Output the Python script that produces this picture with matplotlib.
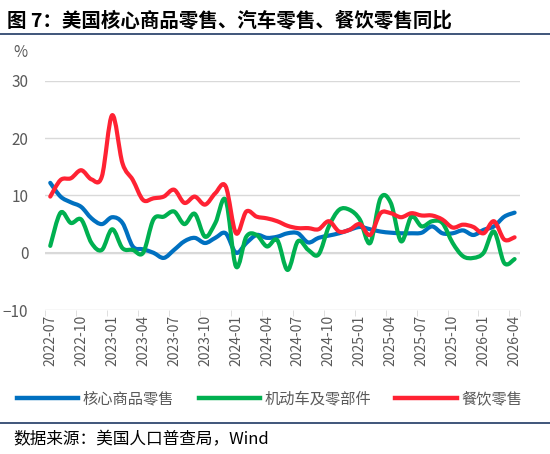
import matplotlib
matplotlib.use("Agg")
import matplotlib.pyplot as plt
from matplotlib.path import Path
from matplotlib.patches import PathPatch
from matplotlib.lines import Line2D
import numpy as np

plt.rcParams["font.family"] = ["Noto Sans CJK SC", "DejaVu Sans"]

MONTHS = [f"{2022 + (6 + i) // 12}-{(6 + i) % 12 + 1:02d}" for i in range(46)]

core_goods = [12.2, 9.8, 8.8, 8.0, 6.0, 5.0, 6.2, 5.2, 1.1, 0.6, 0.0, -0.9,
              0.5, 2.0, 2.6, 1.7, 2.6, 3.4, 0.0, 1.7, 3.1, 2.6, 2.8, 3.4,
              3.4, 1.8, 2.6, 3.0, 3.4, 4.0, 4.5, 4.1, 3.7, 3.5, 3.4, 3.4,
              3.5, 4.6, 3.4, 3.4, 3.9, 3.1, 4.0, 4.6, 6.3, 7.0]
autos = [1.2, 7.0, 5.2, 5.8, 1.7, 0.5, 4.1, 0.8, 0.5, 0.0, 5.8, 6.3,
         7.2, 5.0, 6.8, 2.8, 5.2, 9.2, -2.4, 2.8, 3.1, 1.1, 2.2, -3.0,
         2.0, 0.5, -0.3, 4.6, 7.5, 7.5, 5.8, 1.7, 9.5, 8.7, 2.0, 6.3,
         4.6, 5.5, 5.2, 1.7, -0.6, -0.9, 0.0, 3.7, -1.8, -1.1]
restaurants = [9.8, 12.7, 13.0, 14.4, 12.8, 13.3, 24.0, 15.6, 12.7, 9.2, 9.5, 9.8,
               11.0, 8.7, 9.8, 8.4, 10.4, 11.6, 3.4, 7.2, 6.3, 6.0, 5.5, 4.7,
               4.3, 4.3, 4.1, 5.5, 3.7, 4.0, 5.0, 3.1, 6.9, 6.9, 6.2, 6.9,
               6.5, 6.5, 5.8, 4.4, 4.9, 4.5, 3.4, 5.5, 2.3, 2.7]

SERIES = [("核心商品零售", core_goods, "#0070c0"),
          ("机动车及零部件", autos, "#00b050"),
          ("餐饮零售", restaurants, "#ff2233")]

NAVY = "#1f3864"


def smooth_path(ys):
    # Catmull-Rom through the points, drawn as cubic Bezier segments
    p = np.column_stack([np.arange(len(ys)), ys]).astype(float)
    verts, codes = [p[0]], [Path.MOVETO]
    for i in range(len(p) - 1):
        p0 = p[max(i - 1, 0)]
        p1, p2 = p[i], p[i + 1]
        p3 = p[min(i + 2, len(p) - 1)]
        verts += [p1 + (p2 - p0) / 6, p2 - (p3 - p1) / 6, p2]
        codes += [Path.CURVE4] * 3
    return Path(verts, codes)


fig = plt.figure(figsize=(5.5, 4.54), dpi=100)
ax = fig.add_axes([0.082, 0.317, 0.863, 0.505])

for label, ys, color in SERIES:
    ax.add_patch(PathPatch(smooth_path(ys), facecolor="none", edgecolor=color,
                           lw=3.0, capstyle="round", joinstyle="round", zorder=3))

ax.set_xlim(-0.5, len(MONTHS) - 0.5)
ax.set_ylim(-10, 30)
ax.set_yticks([-10, 0, 10, 20, 30])
ax.grid(axis="y", color="#d9d9d9", lw=1)
ax.set_axisbelow(True)
ticks = list(range(0, len(MONTHS), 3))
ax.set_xticks(ticks)
ax.set_xticklabels([MONTHS[i] for i in ticks], rotation=90, fontsize=10, color="#595959")
ax.tick_params(axis="y", length=0, labelsize=11, labelcolor="#595959", pad=12)
for s in ("top", "right", "left", "bottom"):
    ax.spines[s].set_visible(False)
ax.axhline(0, color="#d9d9d9", lw=1.5, zorder=1)
ax.set_xticks([t - 0.5 for t in ticks] + [len(MONTHS) - 0.5], minor=True)
ax.tick_params(axis="x", which="major", length=0)
ax.tick_params(axis="x", which="minor", length=4, color="#d9d9d9")

fig.text(0.025, 0.875, "%", fontsize=11, color="#595959")
fig.text(0.012, 0.955, "图 7：美国核心商品零售、汽车零售、餐饮零售同比",
         fontsize=14, fontweight="bold", va="center")
fig.add_artist(Line2D([0, 1], [0.925, 0.925], color=NAVY, lw=1.2))
fig.add_artist(Line2D([0, 1], [0.068, 0.068], color=NAVY, lw=1.2))
fig.text(0.025, 0.032, "数据来源：美国人口普查局，Wind", fontsize=12, va="center")

handles = [Line2D([], [], color=c, lw=3.2) for _, _, c in SERIES]
fig.legend(handles, [s[0] for s in SERIES], loc="center", bbox_to_anchor=(0.49, 0.122),
           ncol=3, frameon=False, fontsize=11, handlelength=4.0, handletextpad=0.3,
           columnspacing=1.6, labelcolor="#595959")

fig.savefig("out.png", facecolor="white")
